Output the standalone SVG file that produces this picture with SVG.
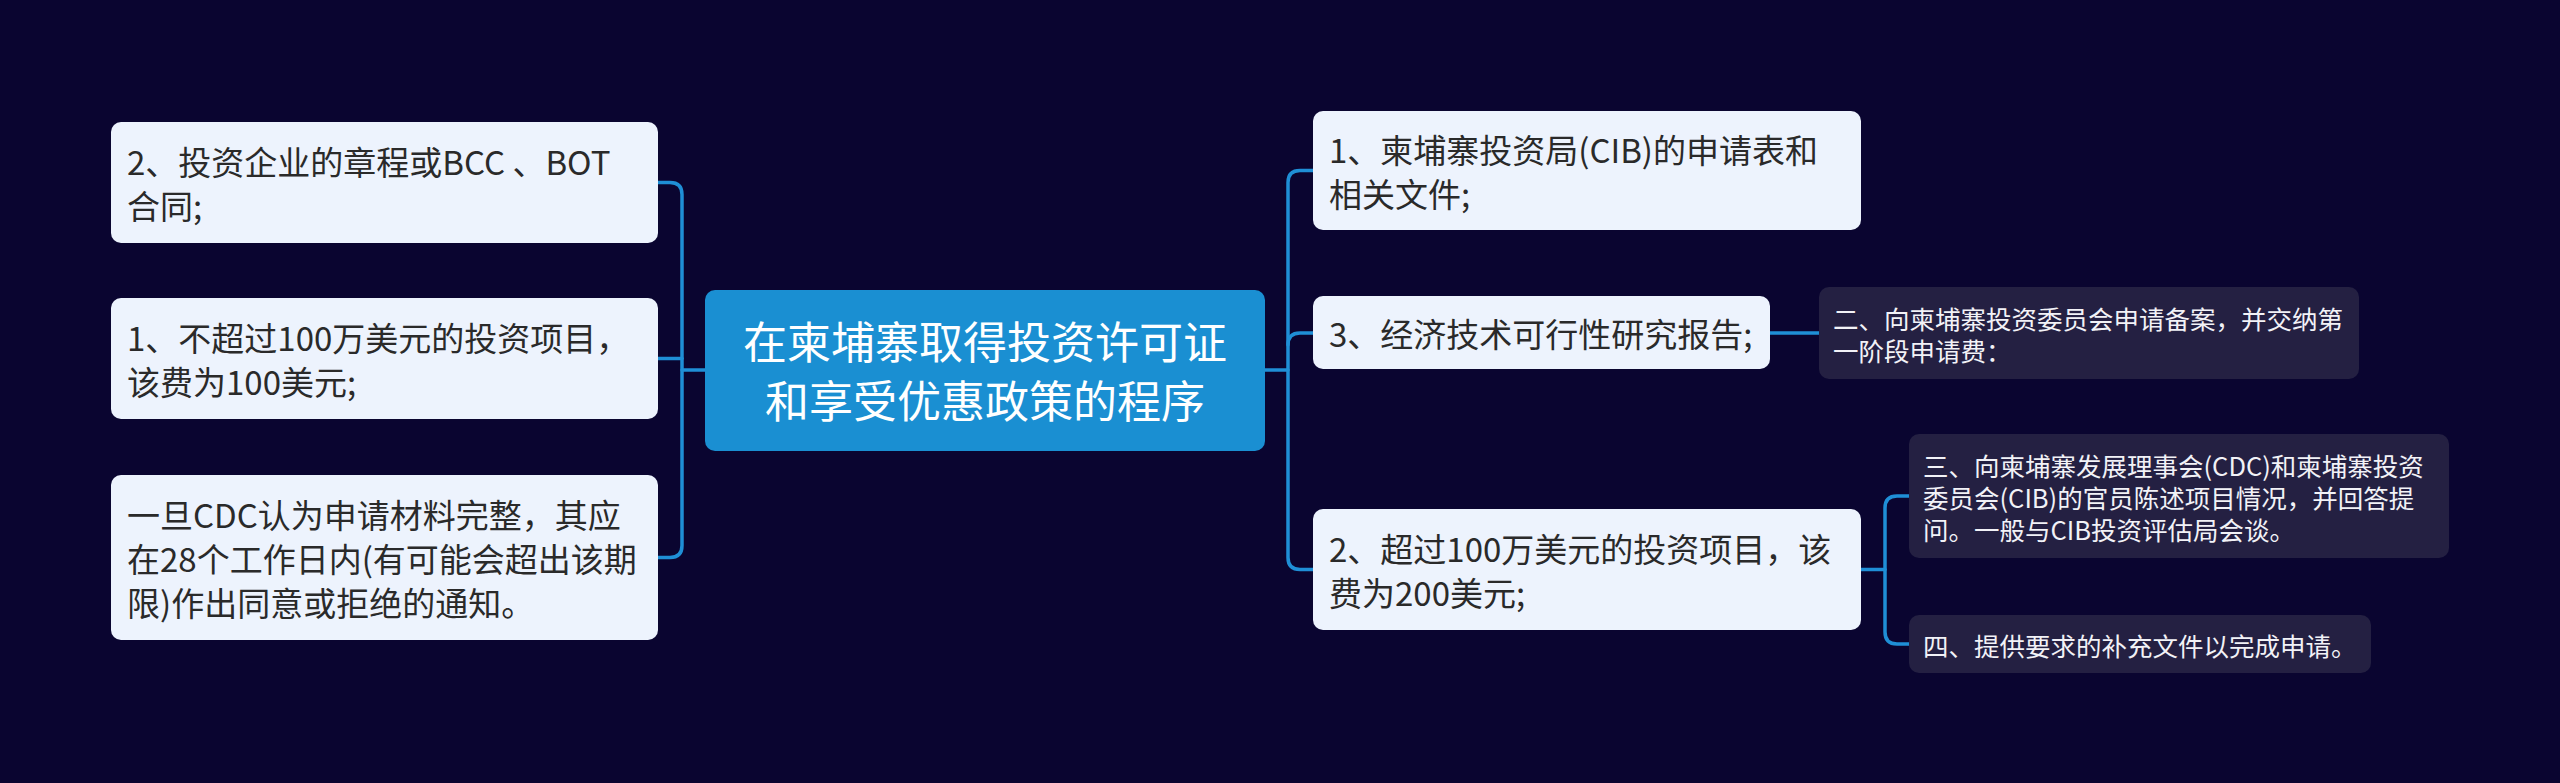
<svg xmlns="http://www.w3.org/2000/svg" width="2560" height="783" viewBox="0 0 2560 783">
<style>
.bg{fill:#0a0530}
.lt{fill:#edf3fd}
.dk{fill:#242042}
.ctr{fill:#1a8fd2}
.t{font-family:"Noto Sans CJK SC","Noto Sans",sans-serif;font-size:33px;fill:#2a2a2a;dominant-baseline:central}
.tc{font-family:"Noto Sans CJK SC","Noto Sans",sans-serif;font-size:44px;fill:#ffffff;dominant-baseline:central;text-anchor:middle}
.ts{font-family:"Noto Sans CJK SC","Noto Sans",sans-serif;font-size:25.5px;fill:#f2f2f7;dominant-baseline:central}
.c{fill:none;stroke:#1f8fd6;stroke-width:3.5;stroke-linecap:round}
</style>
<rect class="bg" x="0" y="0" width="2560" height="783"/>
<g id="connectors">
<path class="c" d="M705 370 H682"/>
<path class="c" d="M658 182.5 H670 Q682 182.5 682 194.5 V545.5 Q682 557.5 670 557.5 H658"/>
<path class="c" d="M658 358.5 H682"/>
<path class="c" d="M1265 370 H1288"/>
<path class="c" d="M1313 170.5 H1300 Q1288 170.5 1288 182.5 V557.5 Q1288 569.5 1300 569.5 H1313"/>
<path class="c" d="M1288 345 Q1288 333 1300 333 H1313"/>
<path class="c" d="M1770 333 H1819"/>
<path class="c" d="M1861 569.5 H1885"/>
<path class="c" d="M1909 496 H1897 Q1885 496 1885 508 V632 Q1885 644 1897 644 H1909"/>
</g>
<g id="center">
<rect class="ctr" x="705" y="290" width="560" height="161" rx="10"/>
<text class="tc" x="985" y="340">在柬埔寨取得投资许可证</text>
<text class="tc" x="985" y="399">和享受优惠政策的程序</text>
</g>
<g id="left1">
<rect class="lt" x="111" y="122" width="547" height="121" rx="10"/>
<text class="t" x="127" y="161">2、投资企业的章程或BCC 、BOT</text>
<text class="t" x="127" y="205">合同;</text>
</g>
<g id="left2">
<rect class="lt" x="111" y="298" width="547" height="121" rx="10"/>
<text class="t" x="127" y="337">1、不超过100万美元的投资项目，</text>
<text class="t" x="127" y="381">该费为100美元;</text>
</g>
<g id="left3">
<rect class="lt" x="111" y="475" width="547" height="165" rx="10"/>
<text class="t" x="127" y="514">一旦CDC认为申请材料完整，其应</text>
<text class="t" x="127" y="558">在28个工作日内(有可能会超出该期</text>
<text class="t" x="127" y="602">限)作出同意或拒绝的通知。</text>
</g>
<g id="right1">
<rect class="lt" x="1313" y="111" width="548" height="119" rx="10"/>
<text class="t" x="1329" y="149">1、柬埔寨投资局(CIB)的申请表和</text>
<text class="t" x="1329" y="193">相关文件;</text>
</g>
<g id="right2">
<rect class="lt" x="1313" y="296" width="457" height="73" rx="10"/>
<text class="t" x="1329" y="333">3、经济技术可行性研究报告;</text>
</g>
<g id="right3">
<rect class="lt" x="1313" y="509" width="548" height="121" rx="10"/>
<text class="t" x="1329" y="548">2、超过100万美元的投资项目，该</text>
<text class="t" x="1329" y="592">费为200美元;</text>
</g>
<g id="sub1">
<rect class="dk" x="1819" y="287" width="540" height="92" rx="10"/>
<text class="ts" x="1833" y="317">二、向柬埔寨投资委员会申请备案，并交纳第</text>
<text class="ts" x="1833" y="349">一阶段申请费：</text>
</g>
<g id="sub2">
<rect class="dk" x="1909" y="434" width="540" height="124" rx="10"/>
<text class="ts" x="1923" y="464">三、向柬埔寨发展理事会(CDC)和柬埔寨投资</text>
<text class="ts" x="1923" y="496">委员会(CIB)的官员陈述项目情况，并回答提</text>
<text class="ts" x="1923" y="528">问。一般与CIB投资评估局会谈。</text>
</g>
<g id="sub3">
<rect class="dk" x="1909" y="615" width="462" height="58" rx="10"/>
<text class="ts" x="1923" y="644">四、提供要求的补充文件以完成申请。</text>
</g>
</svg>
